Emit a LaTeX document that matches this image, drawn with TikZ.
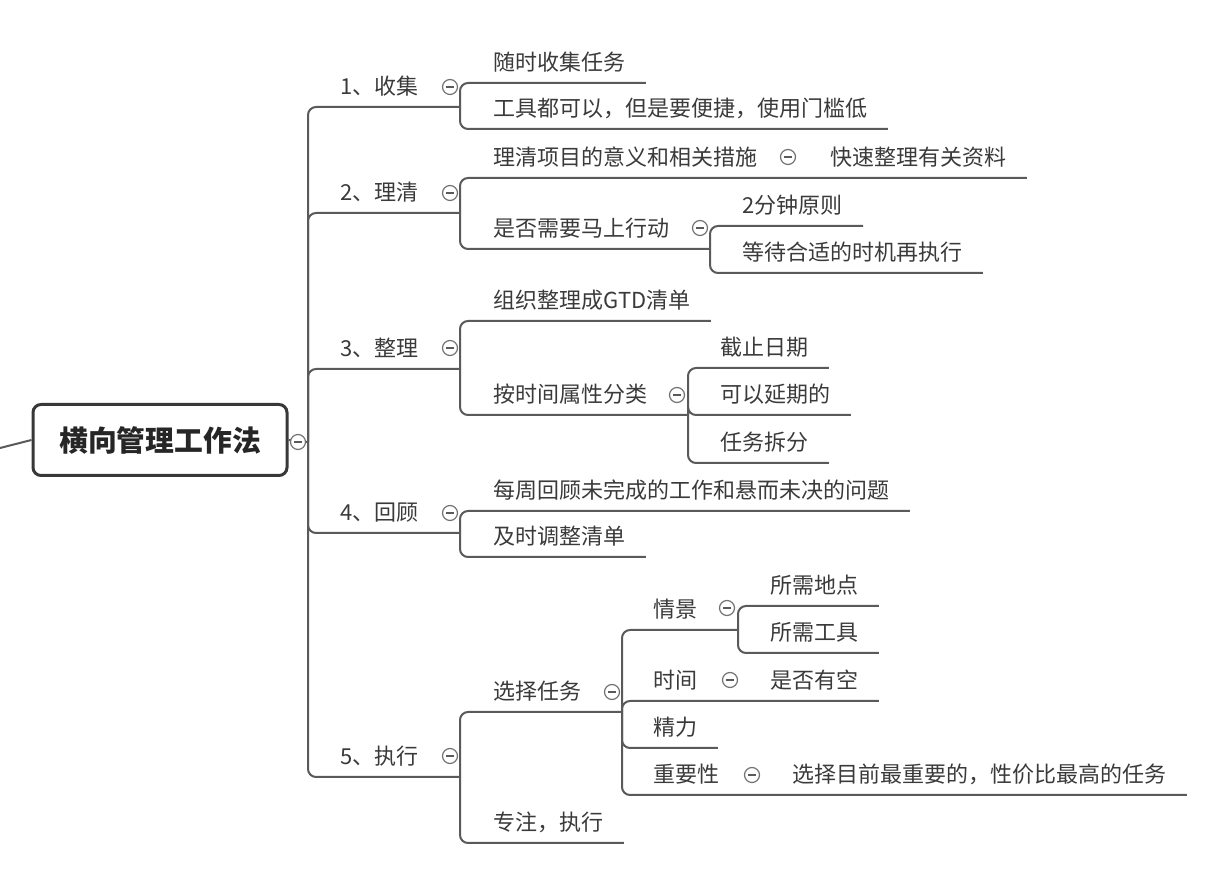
\documentclass[tikz,border=0pt]{standalone}
\usepackage{fontspec}
\setmainfont{Noto Sans CJK SC}
\definecolor{linegray}{HTML}{5A5A5A}
\definecolor{textgray}{HTML}{3A3A3A}
\begin{document}
\begin{tikzpicture}[x=0.5pt,y=-0.5pt,
  branch/.style={draw=linegray,line width=1pt,rounded corners=4pt},
  topic/.style={anchor=south west,inner xsep=10pt,inner ysep=0pt,text height=8pt,text depth=6pt,
    text=textgray,font=\fontsize{11pt}{13pt}\selectfont},
  fold/.style={circle,draw=linegray!85,fill=white,line width=0.6pt,minimum size=7.5pt,inner sep=0pt,
    path picture={\draw[linegray,line width=0.6pt] ([xshift=-1.9pt]path picture bounding box.center)
      -- ([xshift=1.9pt]path picture bounding box.center);}},
  rootbox/.style={draw=black!78,line width=1.5pt,rounded corners=4pt,fill=white,
    minimum width=127pt,minimum height=35.5pt,text=black!85,
    font=\fontsize{14.4pt}{17pt}\selectfont\bfseries}]
\useasboundingbox (0,0) rectangle (1206,876);
\node[rootbox] (root) at (160,440) {横向管理工作法};
\coordinate (tail) at (0,448);
\coordinate (b0) at (308,442);
\coordinate (b1) at (460,107);
\coordinate (b2) at (460,213);
\coordinate (b22) at (710,249);
\coordinate (b3) at (460,369);
\coordinate (b32) at (688,415);
\coordinate (b4) at (460,533);
\coordinate (b5) at (460,777);
\coordinate (b51) at (622,712);
\coordinate (b511) at (738,630);
\node[topic] (l1) at (320,107) {1、收集};
\node[topic] (l2) at (320,213) {2、理清};
\node[topic] (l3) at (320,369) {3、整理};
\node[topic] (l4) at (320,533) {4、回顾};
\node[topic] (l5) at (320,777) {5、执行};
\node[topic] (c11) at (473,83) {随时收集任务};
\node[topic] (c12) at (473,129) {工具都可以，但是要便捷，使用门槛低};
\node[topic] (c21) at (473,178) {理清项目的意义和相关措施};
\node[topic] (c211) at (810,178) {快速整理有关资料};
\node[topic] (c22) at (473,249) {是否需要马上行动};
\node[topic] (c221) at (722,226) {2分钟原则};
\node[topic] (c222) at (722,273) {等待合适的时机再执行};
\node[topic] (c31) at (473,321) {组织整理成GTD清单};
\node[topic] (c32) at (473,415) {按时间属性分类};
\node[topic] (c321) at (700,368) {截止日期};
\node[topic] (c322) at (700,415) {可以延期的};
\node[topic] (c323) at (700,463) {任务拆分};
\node[topic] (c41) at (473,511) {每周回顾未完成的工作和悬而未决的问题};
\node[topic] (c42) at (473,557) {及时调整清单};
\node[topic] (c51) at (473,712) {选择任务};
\node[topic] (c52) at (473,843) {专注，执行};
\node[topic] (c511) at (633,630) {情景};
\node[topic] (c5111) at (750,606) {所需地点};
\node[topic] (c5112) at (750,653) {所需工具};
\node[topic] (c512) at (633,701) {时间};
\node[topic] (c5121) at (750,701) {是否有空};
\node[topic] (c513) at (633,748) {精力};
\node[topic] (c514) at (633,795) {重要性};
\node[topic] (c5141) at (772,795) {选择目前最重要的，性价比最高的任务};
\draw[branch] (root.west) -- (tail);
\draw[branch] (root.east) -- (b0);
\foreach \b in {b1,b2,b3,b4,b5} \draw[branch] (b0) |- (\b);
\draw[branch] (b1) |- (c11.south east);
\draw[branch] (b1) |- (c12.south east);
\draw[branch] (b2) |- (c211.south east);
\draw[branch] (b2) |- (b22);
\draw[branch] (b22) |- (c221.south east);
\draw[branch] (b22) |- (c222.south east);
\draw[branch] (b3) |- (c31.south east);
\draw[branch] (b3) |- (b32);
\foreach \c in {c321,c322,c323} \draw[branch] (b32) |- (\c.south east);
\draw[branch] (b4) |- (c41.south east);
\draw[branch] (b4) |- (c42.south east);
\draw[branch] (b5) |- (b51);
\draw[branch] (b5) |- (c52.south east);
\draw[branch] (b51) |- (b511);
\draw[branch] (b511) |- (c5111.south east);
\draw[branch] (b511) |- (c5112.south east);
\draw[branch] (b51) |- (c5121.south east);
\draw[branch] (b51) |- (c513.south east);
\draw[branch] (b51) |- (c5141.south east);
\node[fold] (f0) at (298,442) {};
\node[fold] (f1) at (450,87) {};
\node[fold] (f2) at (450,193) {};
\node[fold] (f21) at (788,157) {};
\node[fold] (f22) at (700,228) {};
\node[fold] (f3) at (450,348) {};
\node[fold] (f32) at (677,395) {};
\node[fold] (f4) at (450,513) {};
\node[fold] (f5) at (450,756) {};
\node[fold] (f51) at (612,692) {};
\node[fold] (f511) at (727,608) {};
\node[fold] (f512) at (730,680) {};
\node[fold] (f514) at (752,775) {};
\end{tikzpicture}
\end{document}
